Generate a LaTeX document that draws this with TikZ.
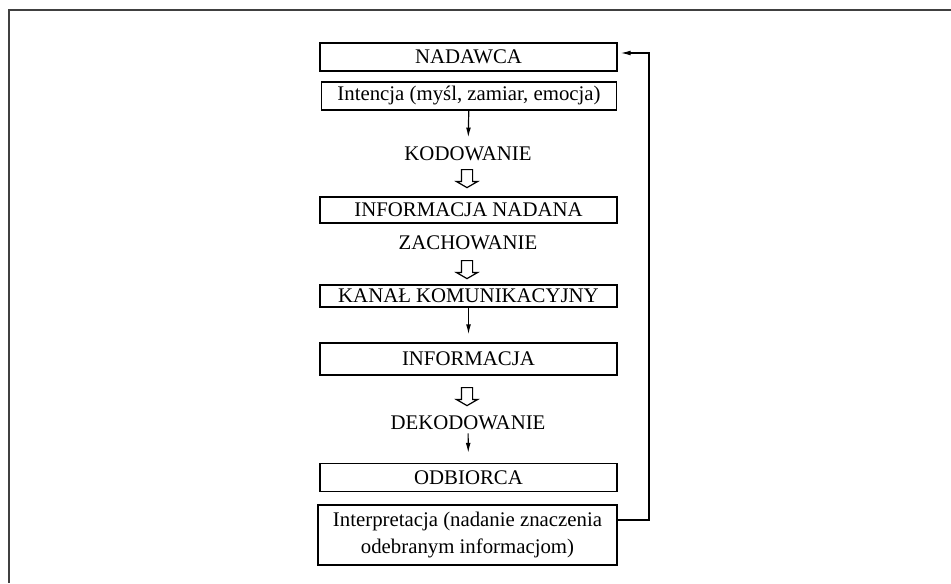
\documentclass[tikz,border=0pt]{standalone}
\usepackage{fontspec}
\setmainfont{Liberation Serif}
\usetikzlibrary{shapes,arrows.meta,positioning}
\tikzset{
  box/.style={draw, rectangle, line width=0.6pt, minimum width=148.5pt, inner sep=0pt, align=center},
  word/.style={inner sep=0pt, align=center},
  hollow/.style={draw, single arrow, shape border rotate=270, line width=0.6pt, minimum height=9pt, minimum width=10pt, single arrow head extend=2.5pt, single arrow tip angle=120, inner sep=2.5pt},
  flow/.style={-{Latex[length=5pt,width=2.4pt]}, line width=0.6pt}
}

\begin{document}
\begin{tikzpicture}[x=0.5pt, y=-0.5pt, font=\fontsize{10.4}{13.5}\selectfont]
        \useasboundingbox (0,0) rectangle (951,583);
        % frame round the figure
        \draw[line width=1pt, black!75] (951,10.5) -- (8.5,10.5) -- (8.5,583);

        % sender side
        \node[box, minimum height=14pt] (nadawca) at (468.5,57) {NADAWCA};
        \node[box, minimum height=14pt, minimum width=147.5pt] (intencja) at (469,96) {Intencja (myśl, zamiar, emocja)};
        \node[word] (kodowanie) at (468,154) {KODOWANIE};
        \node[hollow] (kod2nad) at (467,177) {};
        \node[box, minimum height=13pt] (nadana) at (468.5,210) {INFORMACJA NADANA};
        \node[word] (zachowanie) at (468,243) {ZACHOWANIE};
        \node[hollow] (zach2kan) at (467,268) {};

        % channel
        \node[box, minimum height=11pt] (kanal) at (468.5,296) {KANAŁ KOMUNIKACYJNY};
        \node[box, minimum height=16pt] (informacja) at (468.5,359) {INFORMACJA};
        \node[hollow] (inf2dek) at (467,395) {};

        % receiver side
        \node[word] (dekodowanie) at (468,423) {DEKODOWANIE};
        \node[box, minimum height=14pt] (odbiorca) at (468.5,477.5) {ODBIORCA};
        \node[box, minimum height=30pt, minimum width=149.5pt] (interpretacja) at (467.5,535) {Interpretacja (nadanie znaczenia\\odebranym informacjom)};

        % connect the nodes
        \draw[flow, shorten >=4.5pt] (intencja) -- (kodowanie);
        \draw[flow, shorten >=4pt] (kanal) -- (informacja);
        \draw[flow, shorten <=1.5pt, shorten >=5pt] (dekodowanie) -- (odbiorca);

        % feedback loop
        \coordinate (zwrot) at (649,53);
        \draw[flow] ([yshift=7.5pt]interpretacja.east) -| (zwrot) -- ([xshift=1.5pt, yshift=2pt]nadawca.east);
    \end{tikzpicture}
\end{document}
